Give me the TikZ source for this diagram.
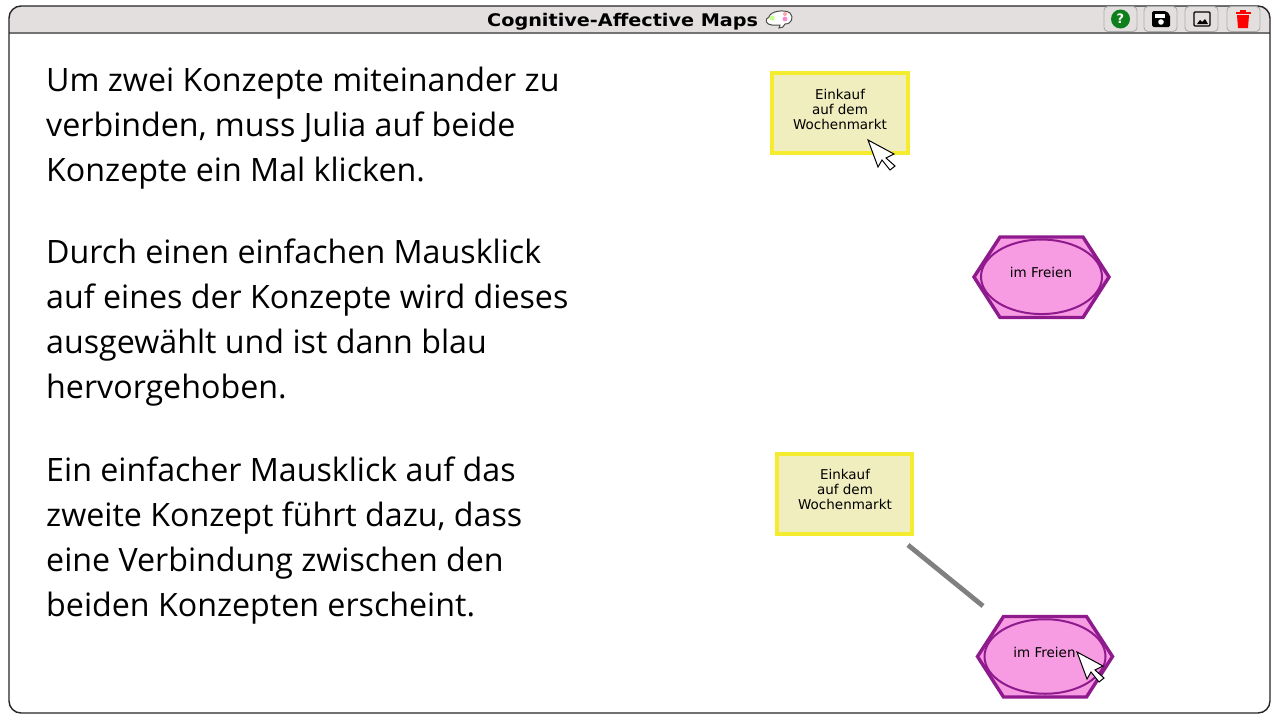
\documentclass[tikz,border=0pt]{standalone}
\usepackage{fontspec}
\setmainfont{Open Sans}
\newfontfamily\titlefont{DejaVu Sans}
\newfontfamily\nodefont{DejaVu Sans}
\usetikzlibrary{calc,shapes.geometric}
\definecolor{barcol}{HTML}{E4DFDF}
\definecolor{ylw}{HTML}{F5EC30}
\definecolor{ylwfill}{HTML}{F0EDBE}
\definecolor{pur}{HTML}{8E1A8E}
\definecolor{pink}{HTML}{F79BE2}
\definecolor{grn}{HTML}{0E7F1C}
\tikzset{
  x=1pt,y=-1pt,
  body/.style={anchor=north west,align=left,font=\fontsize{32.2}{45}\selectfont,inner sep=0pt,text=black},
  conceptbox/.style={draw=ylw,fill=ylwfill,line width=3.6pt,minimum width=135.5pt,minimum height=80pt,inner sep=0pt},
  labelt/.style={font=\nodefont\fontsize{13.5}{15}\selectfont,align=center,inner sep=0pt,text=black},
  ringe/.style={draw=pur,line width=2pt,ellipse,minimum width=121pt,minimum height=74.5pt,inner sep=0pt},
  hexe/.style={draw=pur,fill=pink,line width=3.4pt,line join=miter},
  btn/.style={draw=black!32,fill=barcol,rounded corners=4pt,line width=.9pt,minimum width=33pt,minimum height=25pt,inner sep=0pt},
  ptr/.style={draw=black,fill=white,line width=1pt,line join=miter},
  link/.style={draw=black!50,line width=4.8pt}
}
\newcommand{\hexat}[2]{%
  \draw[hexe] (#1-67.5,#2) -- (#1-41.5,#2-40) -- (#1+41.5,#2-40) -- (#1+67.5,#2) -- (#1+41.5,#2+40.5) -- (#1-41.5,#2+40.5) -- cycle;}
\newcommand{\ptrat}[2]{%
  \draw[ptr] (#1,#2) -- (#1+26,#2+14) -- (#1+18,#2+18) -- (#1+27,#2+26) -- (#1+22,#2+30) -- (#1+14,#2+20) -- (#1+10,#2+27) -- cycle;}
\begin{document}
\begin{tikzpicture}
\useasboundingbox (0,0) rectangle (1280,720);
\fill[white] (0,0) rectangle (1280,720);
% window
\begin{scope}
\clip[rounded corners=12pt] (9,6) rectangle (1270,713);
\fill[barcol] (9,6) rectangle (1270,33);
\draw[black!55,line width=1.4pt] (9,33) -- (1270,33);
\end{scope}
\draw[black!85,line width=1.4pt,rounded corners=12pt] (9,6) rectangle (1270,713);
\node[font=\titlefont\bfseries\fontsize{17.4}{18}\selectfont,anchor=west,inner sep=0pt] (title) at (487,22) {\scalebox{1.105}[1]{Cognitive-Affective Maps}};
% logo
\draw[black!70,line width=1pt,fill=white] (772,25) .. controls (766,25) and (764,19) .. (769,17) .. controls (770,11) and (785,9) .. (790,13) .. controls (794,17) and (792,24) .. (785,24) .. controls (784,27) and (782,28) .. (779,28) -- (780,25) -- cycle;
\fill[red!35] (785,14) circle (2pt);
\fill[green!50!yellow!45] (772,18) circle (2.6pt);
\fill[magenta!45] (785,19) circle (2.4pt);
% buttons
\node[btn] (bhelp) at (1120.5,19) {};
\node[btn] (bsave) at (1160.5,19) {};
\node[btn] (bimg) at (1201.5,19) {};
\node[btn] (btrash) at (1243.5,19) {};
\fill[grn] (bhelp) circle (9.5pt);
\node[font=\nodefont\bfseries\fontsize{13}{14}\selectfont,text=white,inner sep=0pt] (qm) at (bhelp) {?};
% floppy
\fill[black,rounded corners=1.5pt] (1152,11) -- (1166,11) -- (1170,15) -- (1170,27) -- (1152,27) -- cycle;
\fill[white] (1155,13.5) rectangle (1165,17.5);
\fill[white] (1161,22) circle (2.8pt);
% image
\draw[black,line width=1.2pt,rounded corners=1pt] (1194,12) rectangle (1210,26);
\fill[black] (1197,24) -- (1200,20) -- (1202,22) -- (1205,19) -- (1208,24) -- cycle;
% trash
\fill[red] (1237,15) -- (1249,15) -- (1248,28) -- (1238,28) -- cycle;
\fill[red] (1235.5,11.5) rectangle (1250.5,13.8);
\fill[red] (1240,10) rectangle (1246,12);
% text
\node[body] (t1) at (46,66.5) {Um zwei Konzepte miteinander zu\\verbinden, muss Julia auf beide\\Konzepte ein Mal klicken.};
\node[body] (t2) at (46,238.5) {Durch einen einfachen Mausklick\\auf eines der Konzepte wird dieses\\ausgewählt und ist dann blau\\hervorgehoben.};
\node[body] (t3) at (46,456.5) {Ein einfacher Mausklick auf das\\zweite Konzept führt dazu, dass\\eine Verbindung zwischen den\\beiden Konzepten erscheint.};
% top concepts
\node[conceptbox] (c1) at (840,113) {};
\node[labelt] (c1t) at (840,109.5) {Einkauf\\auf dem\\Wochenmarkt};
\ptrat{868}{140}
\hexat{1041.5}{277}
\node[ringe] (h1) at (1041.5,276.8) {};
\node[labelt] (h1t) at (1041,272.5) {im Freien};
% bottom concepts
\node[conceptbox] (c2) at (844.5,494) {};
\node[labelt] (c2t) at (845,489.5) {Einkauf\\auf dem\\Wochenmarkt};
\hexat{1045}{656.5}
\node[ringe] (h2) at (1045,656.5) {};
\node[labelt] (h2t) at (1044.5,652.5) {im Freien};
\ptrat{1077}{652}
\coordinate (la) at (908,545);
\coordinate (lb) at (983,606);
\draw[link] (la) -- (lb);
\end{tikzpicture}
\end{document}
